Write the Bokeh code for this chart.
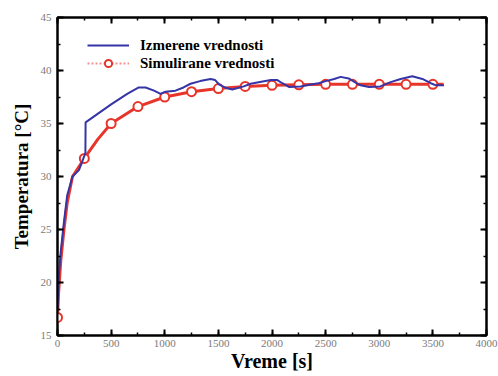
from bokeh.plotting import figure
from bokeh.models import LinearAxis, Range1d, Legend, LegendItem, SingleIntervalTicker, ColumnDataSource
from bokeh.embed import file_html
from bokeh.resources import INLINE

# Measured values (blue)
meas_t = [0, 5, 15, 30, 60, 90, 140, 200, 245, 260, 262, 500, 650, 758, 821, 900, 961, 1007, 1100,
          1175, 1240, 1330, 1427, 1470, 1505, 1560, 1630, 1737, 1800, 1875, 1990, 2050, 2096, 2157,
          2267, 2350, 2435, 2500, 2580, 2640, 2715, 2796, 2826, 2904, 3010, 3106, 3200, 3308, 3402,
          3480, 3530, 3604]
meas_T = [17.5, 19.0, 21.0, 22.9, 25.7, 28.2, 30.0, 30.6, 31.8, 32.2, 35.1, 36.8, 37.8, 38.4, 38.4,
          38.1, 37.8, 38.0, 38.1, 38.4, 38.75, 39.0, 39.2, 39.1, 38.7, 38.4, 38.2, 38.5, 38.75, 38.9,
          39.1, 39.1, 38.8, 38.45, 38.5, 38.65, 38.8, 39.0, 39.2, 39.4, 39.25, 38.75, 38.6, 38.45,
          38.5, 38.9, 39.2, 39.45, 39.2, 38.8, 38.6, 38.6]

# Simulated values (red line)
sim_t = [0, 10, 30, 60, 90, 140, 250, 375, 500, 750, 1000, 1250, 1500, 1750, 2000, 2250, 2500,
         2750, 3000, 3250, 3500, 3600]
sim_T = [16.7, 19.0, 22.0, 25.0, 27.5, 30.0, 31.7, 33.5, 35.0, 36.6, 37.5, 38.0, 38.3, 38.5, 38.6,
         38.65, 38.7, 38.7, 38.7, 38.7, 38.7, 38.7]

# Simulated values (markers)
mark_t = [0, 250, 500, 750, 1000, 1250, 1500, 1750, 2000, 2250, 2500, 2750, 3000, 3250, 3500]
mark_T = [16.7, 31.7, 35.0, 36.6, 37.5, 38.0, 38.3, 38.5, 38.6, 38.65, 38.7, 38.7, 38.7, 38.7, 38.7]

labels = ["Izmerene vrednosti", "Simulirane vrednosti"]

BLUE = "#3535a8"
RED = "#e8352a"
SERIF = "Liberation Serif"

p = figure(width=498, height=376, output_backend="svg", toolbar_location=None,
           x_range=Range1d(0, 4000), y_range=Range1d(15, 45),
           min_border_left=57, min_border_right=12, min_border_top=17, min_border_bottom=41)
p.background_fill_color = "white"
p.border_fill_color = "white"
p.outline_line_color = "black"
p.outline_line_width = 2
p.xgrid.visible = False
p.ygrid.visible = False

xt = SingleIntervalTicker(interval=500, num_minor_ticks=2)
yt = SingleIntervalTicker(interval=5, num_minor_ticks=2)

def style(ax, show_labels):
    ax.axis_line_color = "black"
    ax.axis_line_width = 2
    ax.major_tick_in = 6
    ax.major_tick_out = 0
    ax.minor_tick_in = 3
    ax.minor_tick_out = 0
    ax.major_tick_line_width = 2
    ax.minor_tick_line_width = 1.5
    ax.major_label_text_font = SERIF
    ax.major_label_text_font_size = "11px"
    ax.major_label_text_color = "#7a7a7a"
    if not show_labels:
        ax.major_label_text_alpha = 0
        ax.major_label_text_font_size = "1px"

p.xaxis.ticker = xt
p.yaxis.ticker = yt
for ax in p.xaxis + p.yaxis:
    style(ax, True)
p.xaxis.major_label_standoff = 4
p.yaxis.major_label_standoff = 6

p.xaxis.axis_label = "Vreme [s]"
p.xaxis.axis_label_text_font = SERIF
p.xaxis.axis_label_text_font_style = "bold"
p.xaxis.axis_label_text_font_size = "20px"
p.xaxis.axis_label_text_color = "black"
p.xaxis.axis_label_standoff = 0

p.yaxis.axis_label = "Temperatura [°C]"
p.yaxis.axis_label_text_font = SERIF
p.yaxis.axis_label_text_font_style = "bold"
p.yaxis.axis_label_text_font_size = "19px"
p.yaxis.axis_label_text_color = "black"
p.yaxis.axis_label_standoff = 6

top = LinearAxis(ticker=SingleIntervalTicker(interval=500, num_minor_ticks=2))
right = LinearAxis(ticker=SingleIntervalTicker(interval=5, num_minor_ticks=2))
style(top, False)
style(right, False)
p.add_layout(top, "above")
p.add_layout(right, "right")

p.line(sim_t, sim_T, line_color=RED, line_width=3)
p.scatter(mark_t, mark_T, marker="circle", size=9, fill_color="white", line_color=RED, line_width=2)
p.line(meas_t, meas_T, line_color=BLUE, line_width=2)

# legend-only renderers (data placed outside the visible range)
off = ColumnDataSource(data=dict(x=[-1000, -900], y=[0, 0]))
r_leg_blue = p.line("x", "y", source=off, line_color=BLUE, line_width=2)
r_leg_red_line = p.line("x", "y", source=off, line_color="#f29090", line_width=2, line_dash="2 2")
r_leg_red_mark = p.scatter("x", "y", source=off, marker="circle", size=8, fill_color="white",
                           line_color=RED, line_width=2)

legend = Legend(items=[LegendItem(label=labels[0], renderers=[r_leg_blue]),
                       LegendItem(label=labels[1], renderers=[r_leg_red_line, r_leg_red_mark])],
                location=(30, 263))
legend.border_line_color = None
legend.background_fill_alpha = 0
legend.padding = 0
legend.margin = 0
legend.spacing = 0
legend.glyph_width = 42
legend.glyph_height = 18
legend.label_height = 18
legend.label_standoff = 11
legend.label_text_font = SERIF
legend.label_text_font_style = "bold"
legend.label_text_font_size = "15px"
legend.label_text_color = "black"
p.add_layout(legend, "center")

open("out.html", "w").write(file_html(p, INLINE))
